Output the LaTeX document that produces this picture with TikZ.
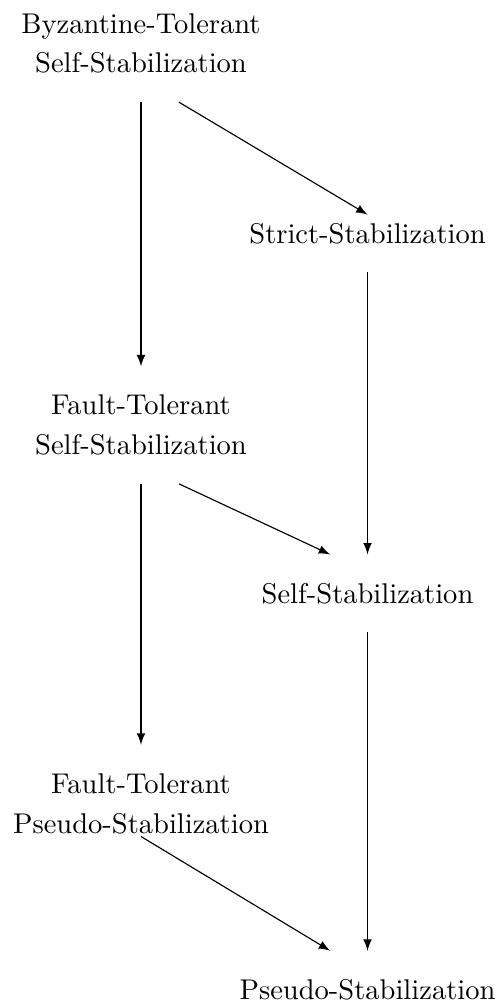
\documentclass[tikz,border=0pt]{standalone}
\usepackage{tikz}

\begin{document}
\begin{tikzpicture}[>=latex, every node/.style={align=center, inner sep=0pt, outer sep=10pt}]
        \useasboundingbox (0,0) rectangle (6.172,-12.418);
        \node (btss) at (1.737,-0.535) {Byzantine-Tolerant\\[2pt]Self-Stabilization};
        \node (strict) at (4.528,-2.877) {Strict-Stabilization};
        \node (ftss) at (1.737,-5.237) {Fault-Tolerant\\[2pt]Self-Stabilization};
        \node (ss) at (4.528,-7.310) {Self-Stabilization};
        \node (ftps) at (1.737,-9.898) {Fault-Tolerant\\[2pt]Pseudo-Stabilization};
        \node (ps) at (4.528,-12.192) {Pseudo-Stabilization};
        \draw[->] (btss) -- (ftss);
        \draw[->] ([xshift=13.3pt]btss.south) -- ([yshift=-7pt]strict.north);
        \draw[->] (strict) -- (ss);
        \draw[->] ([xshift=13.3pt]ftss.south) -- ([xshift=-13.1pt]ss.north);
        \draw[->] (ftss) -- (ftps);
        \draw[->] (ss) -- (ps);
        \draw[->] ([yshift=9pt]ftps.south) -- ([xshift=-13.1pt]ps.north);
    \end{tikzpicture}
\end{document}
